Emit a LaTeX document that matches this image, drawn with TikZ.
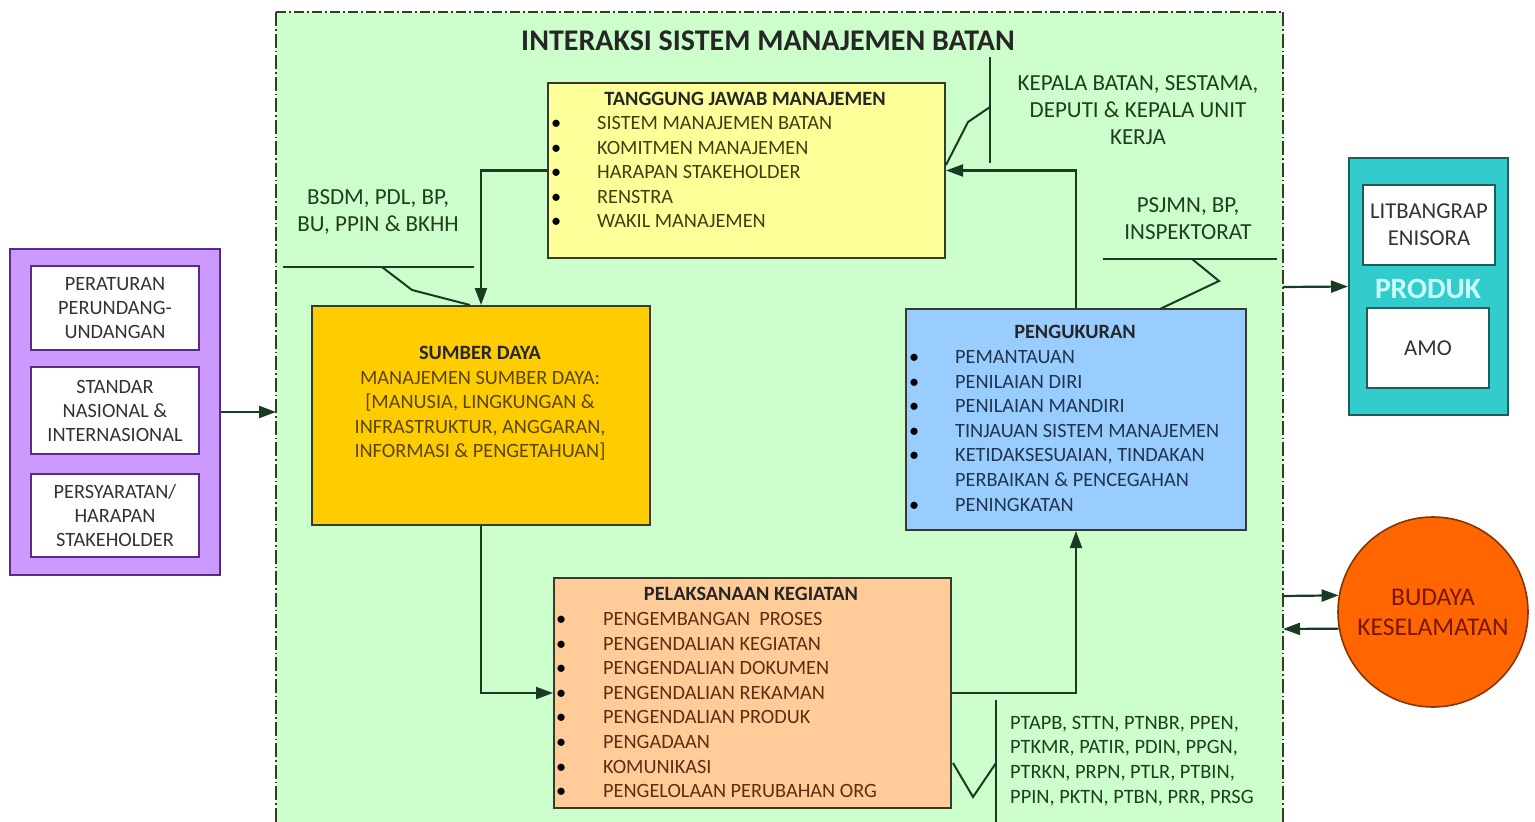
\documentclass[tikz,border=0pt]{standalone}
\usepackage{fontspec}
\setmainfont{Carlito}
\usetikzlibrary{arrows.meta}
\definecolor{bggreen}{HTML}{CCFFCC}
\definecolor{tjfill}{HTML}{FFFF99}
\definecolor{sdfill}{HTML}{FFCC00}
\definecolor{pgfill}{HTML}{99CCFF}
\definecolor{pkfill}{HTML}{FFCC99}
\definecolor{pbfill}{HTML}{CC99FF}
\definecolor{pbline}{HTML}{5A2A80}
\definecolor{tbfill}{HTML}{33CCCC}
\definecolor{tbline}{HTML}{1F5C5C}
\definecolor{bcfill}{HTML}{FF6600}
\definecolor{bcline}{HTML}{8A3300}
\definecolor{boxline}{HTML}{3A3A2A}
\definecolor{tjtext}{HTML}{3F3F10}
\definecolor{sdtext}{HTML}{5A4600}
\definecolor{pgtext}{HTML}{1F3550}
\definecolor{pktext}{HTML}{5A3010}
\definecolor{lbltext}{HTML}{1F3F1F}
\definecolor{linegreen}{HTML}{1A3A22}
\definecolor{bctext}{HTML}{7A1500}
\definecolor{produk}{HTML}{CCFFFF}
\begin{document}
\begin{tikzpicture}[x=1pt,y=-1pt,
  box/.style={draw=boxline,line width=2pt,rectangle,inner sep=0pt},
  wbox/.style={draw=pbline,line width=2pt,fill=white,rectangle,inner sep=0pt},
  txt/.style={inner sep=0pt,font=\fontsize{20.3}{24.5}\selectfont},
  hdr/.style={inner sep=0pt,font=\fontsize{20.3}{24.5}\selectfont\bfseries,text=black!85},
  lbl/.style={inner sep=0pt,align=center,text=lbltext,font=\fontsize{23}{27}\selectfont},
  conn/.style={draw=linegreen,line width=2.2pt},
  arr/.style={conn,-{Triangle[length=17pt,width=12pt]}},
  callout/.style={draw=linegreen,line width=2pt},
]
\useasboundingbox (0,0) rectangle (1535,822);
% green container
\fill[bggreen] (276,12) rectangle (1283,822);
\draw[boxline,line width=1.8pt,dash pattern=on 10pt off 3pt on 2pt off 3pt] (276,12) -- (1283,12);
\draw[boxline,line width=1.8pt,dash pattern=on 14pt off 3pt on 1.5pt off 3pt] (276,12) -- (276,822);
\draw[boxline,line width=1.8pt,dash pattern=on 14pt off 3pt on 1.5pt off 3pt] (1283,12) -- (1283,822);
\node[inner sep=0pt,anchor=base,font=\fontsize{30}{34}\selectfont\bfseries,text=black!85] (title) at (768,50) {INTERAKSI SISTEM MANAJEMEN BATAN};

% main boxes
\node[box,fill=tjfill,minimum width=397pt,minimum height=175pt] (tj) at (746.5,170.5) {};
\node[box,fill=sdfill,minimum width=338pt,minimum height=219pt] (sd) at (481,415.5) {};
\node[box,fill=pgfill,minimum width=340pt,minimum height=221pt] (pg) at (1076,419.5) {};
\node[box,fill=pkfill,minimum width=397pt,minimum height=230pt] (pk) at (752.5,693) {};

% tanggung jawab text
\node[hdr,anchor=base] (tjh) at (745,105.5) {TANGGUNG JAWAB MANAJEMEN};
\foreach \t [count=\i from 0] in {SISTEM MANAJEMEN BATAN,KOMITMEN MANAJEMEN,HARAPAN STAKEHOLDER,RENSTRA,WAKIL MANAJEMEN}{
  \node[txt,anchor=base west,text=tjtext] (tjt\i) at (597,129.5+24.5*\i) {\t};
  \node[txt,anchor=base west,text=black] (tjb\i) at (551,129.5+24.5*\i) {\textbullet};
}

% sumber daya text
\node[hdr,anchor=base] (sdh) at (480,359.5) {SUMBER DAYA};
\foreach \t [count=\i from 0] in {MANAJEMEN SUMBER DAYA:,{[MANUSIA, LINGKUNGAN \&},{INFRASTRUKTUR, ANGGARAN,},{INFORMASI \& PENGETAHUAN]}}{
  \node[txt,anchor=base,text=sdtext] (sdt\i) at (480,384.5+24.4*\i) {\t};
}

% pengukuran text
\node[hdr,anchor=base] (pgh) at (1075,338.5) {PENGUKURAN};
\foreach \t [count=\i from 0] in {PEMANTAUAN,PENILAIAN DIRI,PENILAIAN MANDIRI,TINJAUAN SISTEM MANAJEMEN,{KETIDAKSESUAIAN, TINDAKAN},PERBAIKAN \& PENCEGAHAN,PENINGKATAN}{
  \node[txt,anchor=base west,text=pgtext] (pgt\i) at (955,363.5+24.6*\i) {\t};
}
\foreach \i in {0,1,2,3,4,6}{
  \node[txt,anchor=base west,text=black] (pgb\i) at (909,363.5+24.6*\i) {\textbullet};
}

% pelaksanaan text
\node[hdr,anchor=base] (pkh) at (751,600.5) {PELAKSANAAN KEGIATAN};
\foreach \t [count=\i from 0] in {PENGEMBANGAN\ \ PROSES,PENGENDALIAN KEGIATAN,PENGENDALIAN DOKUMEN,PENGENDALIAN REKAMAN,PENGENDALIAN PRODUK,PENGADAAN,KOMUNIKASI,PENGELOLAAN PERUBAHAN ORG}{
  \node[txt,anchor=base west,text=pktext] (pkt\i) at (603,625.5+24.6*\i) {\t};
  \node[txt,anchor=base west,text=black] (pkb\i) at (556,625.5+24.6*\i) {\textbullet};
}

% main cycle connectors
\draw[arr] (tj.west) -| (sd.north);
\draw[arr] (sd.south) |- (pk.west);
\draw[arr] (pk.east) -| (pg.south);
\draw[arr] (pg.north) |- (tj.east);

% outside labels and callouts
\node[lbl] (bsdm) at (378,212.5) {BSDM, PDL, BP,\\BU, PPIN \& BKHH};
\coordinate (b1) at (283,267); \coordinate (b2) at (474,267);
\coordinate (b3) at (382,267); \coordinate (b4) at (412,290); \coordinate (b5) at (470,305);
\draw[callout] (b1) -- (b2);
\draw[callout] (b3) -- (b4) -- (b5);

\node[lbl] (kep) at (1138,110) {KEPALA BATAN, SESTAMA,\\DEPUTI \& KEPALA UNIT\\KERJA};
\coordinate (k1) at (990,57); \coordinate (k2) at (990,163);
\coordinate (k3) at (990,107); \coordinate (k4) at (968,122); \coordinate (k5) at (946,165);
\draw[callout] (k1) -- (k2);
\draw[callout] (k3) -- (k4) -- (k5);

\node[lbl] (psj) at (1188,219) {PSJMN, BP,\\INSPEKTORAT};
\coordinate (p1) at (1103,259); \coordinate (p2) at (1277,259);
\coordinate (p3) at (1192,259); \coordinate (p4) at (1219,281); \coordinate (p5) at (1160,309);
\draw[callout] (p1) -- (p2);
\draw[callout] (p3) -- (p4) -- (p5);

\node[lbl,align=left,anchor=west,font=\fontsize{20.4}{24.7}\selectfont] (pta) at (1010,761) {PTAPB, STTN, PTNBR, PPEN,\\PTKMR, PATIR, PDIN, PPGN,\\PTRKN, PRPN, PTLR, PTBIN,\\PPIN, PKTN, PTBN, PRR, PRSG};
\coordinate (t1) at (996,700); \coordinate (t2) at (996,822);
\coordinate (t3) at (953,763); \coordinate (t4) at (973,797); \coordinate (t5) at (996,763);
\draw[callout] (t1) -- (t2);
\draw[callout] (t3) -- (t4) -- (t5);

% purple box
\node[draw=pbline,line width=2pt,fill=pbfill,minimum width=210pt,minimum height=326pt,inner sep=0pt] (pb) at (115,412) {};
\node[wbox,minimum width=168pt,minimum height=84pt,align=center,text=black!80,font=\fontsize{20.3}{24}\selectfont] (pb1) at (115,308) {PERATURAN\\PERUNDANG-\\UNDANGAN};
\node[wbox,minimum width=168pt,minimum height=87pt,align=center,text=black!80,font=\fontsize{20.3}{24}\selectfont] (pb2) at (115,410.5) {STANDAR\\NASIONAL \&\\INTERNASIONAL};
\node[wbox,minimum width=168pt,minimum height=83pt,align=center,text=black!80,font=\fontsize{20.3}{24}\selectfont] (pb3) at (115,515.5) {PERSYARATAN/\\HARAPAN\\STAKEHOLDER};
\coordinate (gl) at (276,412);
\draw[arr] (pb.east) -- (gl);

% teal box
\node[draw=tbline,line width=2pt,fill=tbfill,minimum width=159pt,minimum height=257pt,inner sep=0pt] (tb) at (1428.5,286.5) {};
\node[draw=tbline,line width=2pt,fill=white,minimum width=132pt,minimum height=80pt,inner sep=0pt,align=center,text=black!80,font=\fontsize{22.7}{27}\selectfont] (tb1) at (1429,225) {LITBANGRAP\\ENISORA};
\node[inner sep=0pt,text=produk,font=\fontsize{29.5}{32}\selectfont\bfseries] (tbp) at (1428,289) {PRODUK};
\node[draw=tbline,line width=2pt,fill=white,minimum width=122pt,minimum height=80pt,inner sep=0pt,text=black!80,font=\fontsize{22.7}{27}\selectfont] (tb2) at (1428,348) {AMO};
\coordinate (gr) at (1283,287);
\draw[arr] (gr) -- (tb.west);

% circle
\node[circle,draw=bcline,line width=1.6pt,fill=bcfill,minimum size=190pt,inner sep=0pt,align=center,text=bctext,font=\fontsize{25.5}{30}\selectfont] (bc) at (1433,612) {BUDAYA\\KESELAMATAN};
\coordinate (g1) at (1283,596);
\coordinate (g2) at (1283,629);
\draw[arr] (g1) -- (bc.170);
\draw[arr] (bc.190) -- (g2);
\end{tikzpicture}
\end{document}
